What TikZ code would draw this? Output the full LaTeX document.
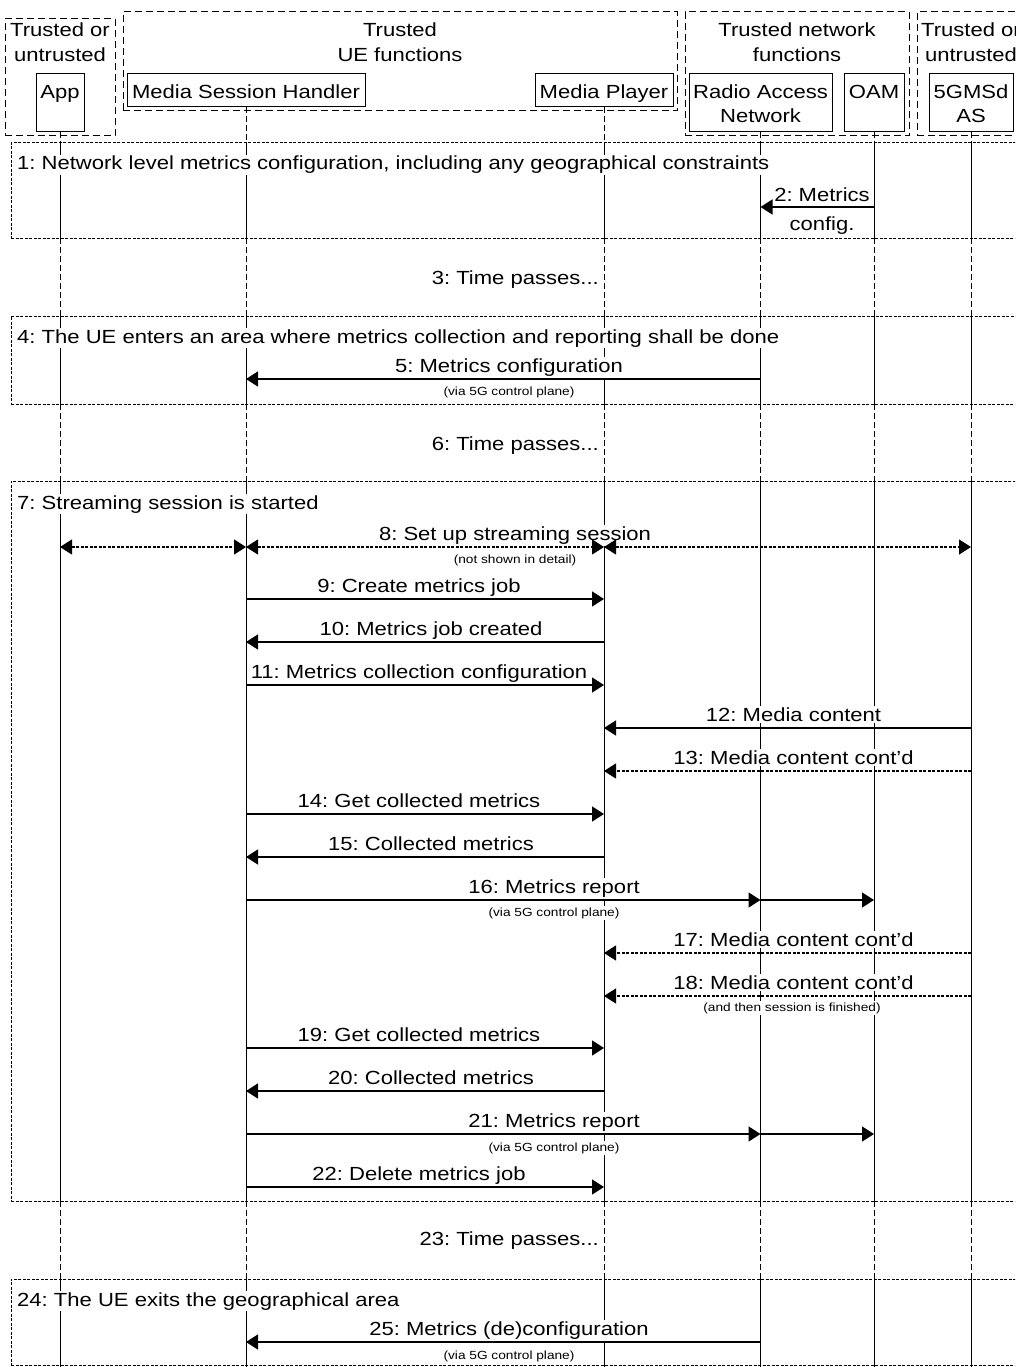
\documentclass[tikz,border=0pt]{standalone}
\usepackage{fontspec}
\setmainfont{Liberation Sans}
\usepackage{graphicx}
\usetikzlibrary{arrows.meta}
\newcommand{\sx}[1]{\scalebox{1.16}[1]{#1}}
\frenchspacing
\begin{document}
\begin{tikzpicture}[x=1pt,y=-1pt,
  every node/.style={font=\fontsize{19}{23}\selectfont},
  pbox/.style={draw, line width=1pt, inner sep=0pt, outer sep=0pt},
  gbox/.style={draw, line width=1pt, dash pattern=on 7pt off 4pt, inner sep=0pt, outer sep=0pt, anchor=north west},
  frm/.style={draw, line width=1pt, dash pattern=on 3pt off 1.5pt, inner sep=0pt, outer sep=0pt, anchor=north west},
  ttxt/.style={anchor=base, inner sep=0pt},
  lab/.style={anchor=base, fill=white, inner xsep=1pt, inner ysep=1.5pt},
  small/.style={anchor=base, fill=white, inner xsep=1pt, inner ysep=1.5pt, font=\fontsize{11.8}{14}\selectfont},
  life/.style={line width=1pt},
  lifegap/.style={line width=1pt, dash pattern=on 6pt off 3pt},
  msg/.style={line width=1.5pt, -{Triangle[length=12pt,width=15pt]}},
  dmsg/.style={line width=1.2pt, dash pattern=on 3pt off 1.5pt, -{Triangle[length=12pt,width=15pt]}},
  dbl/.style={line width=1.2pt, dash pattern=on 3pt off 1.5pt, {Triangle[length=12pt,width=15pt]}-{Triangle[length=12pt,width=15pt]}},
]
\useasboundingbox (0,0) rectangle (1015,1367);
\clip (0,0) rectangle (1015,1367);

% group boxes
\node[gbox, minimum width=110pt, minimum height=117pt] (grpA) at (5,19) {};
\node[gbox, minimum width=554pt, minimum height=99pt] (grpUE) at (123,12) {};
\node[gbox, minimum width=224pt, minimum height=124pt] (grpNet) at (685,12) {};
\node[gbox, minimum width=130pt, minimum height=124pt] (grpR) at (917,12) {};
\node[ttxt] (grpAt1) at (60,37) {\sx{Trusted or}};
\node[ttxt] (grpAt2) at (60,62) {\sx{untrusted}};
\node[ttxt] (grpUEt1) at (400,37) {\sx{Trusted}};
\node[ttxt] (grpUEt2) at (400,62) {\sx{UE functions}};
\node[ttxt] (grpNett1) at (797,37) {\sx{Trusted network}};
\node[ttxt] (grpNett2) at (797,62) {\sx{functions}};
\node[ttxt] (grpRt1) at (971,37) {\sx{Trusted or}};
\node[ttxt] (grpRt2) at (971,62) {\sx{untrusted}};

% participants
\node[pbox, minimum width=48pt, minimum height=58pt] (app) at (60,103) {};
\node[pbox, minimum width=238pt, minimum height=33pt] (msh) at (246,90.5) {};
\node[pbox, minimum width=138pt, minimum height=33pt] (mp) at (604,90.5) {};
\node[pbox, minimum width=143pt, minimum height=58pt] (ran) at (760.5,103) {};
\node[pbox, minimum width=60pt, minimum height=58pt] (oam) at (874,103) {};
\node[pbox, minimum width=84pt, minimum height=58pt] (asd) at (971,103) {};
\node[ttxt] (appT) at (60,99) {\sx{App}};
\node[ttxt] (mshT) at (246,99) {\sx{Media Session Handler}};
\node[ttxt] (mpT) at (604,99) {\sx{Media Player}};
\node[ttxt] (ranT1) at (760.5,99) {\sx{Radio Access}};
\node[ttxt] (ranT2) at (760.5,123) {\sx{Network}};
\node[ttxt] (oamT) at (874,99) {\sx{OAM}};
\node[ttxt] (asdT1) at (971,99) {\sx{5GMSd}};
\node[ttxt] (asdT2) at (971,123) {\sx{AS}};

% frames
\node[frm, minimum width=1040pt, minimum height=95pt] (fr1) at (11,143) {};
\node[frm, minimum width=1040pt, minimum height=88pt] (fr4) at (11,316) {};
\node[frm, minimum width=1040pt, minimum height=720pt] (fr7) at (11,481) {};
\node[frm, minimum width=1040pt, minimum height=86pt] (fr24) at (11,1279) {};

% y levels
\coordinate (t1) at (0,143); \coordinate (b1) at (0,238);
\coordinate (t4) at (0,316); \coordinate (b4) at (0,404);
\coordinate (t7) at (0,481); \coordinate (b7) at (0,1201);
\coordinate (t24) at (0,1279); \coordinate (b24) at (0,1365);
\coordinate (bot) at (0,1370);
\foreach \n/\y in {2/207,5/379,8/547,9/599,10/642,11/685,12/728,13/771,14/814,15/857,16/900,17/953,18/996,19/1048,20/1091,21/1134,22/1187,25/1342}
  \coordinate (r\n) at (0,\y);

% lifelines
\foreach \p in {app,msh,mp,ran,oam,asd} {
  \draw[lifegap] (\p.south) -- (\p |- t1);
  \draw[life] (\p |- t1) -- (\p |- b1);
  \draw[lifegap] (\p |- b1) -- (\p |- t4);
  \draw[life] (\p |- t4) -- (\p |- b4);
  \draw[lifegap] (\p |- b4) -- (\p |- t7);
  \draw[life] (\p |- t7) -- (\p |- b7);
  \draw[lifegap] (\p |- b7) -- (\p |- t24);
  \draw[life] (\p |- t24) -- (\p |- b24);
  \draw[lifegap] (\p |- b24) -- (\p |- bot);
}

% frame titles and interludes
\node[lab, anchor=base west] (fr1T) at (16,170) {\sx{1: Network level metrics configuration, including any geographical constraints}};
\node[lab, anchor=base west] (fr4T) at (16,343) {\sx{4: The UE enters an area where metrics collection and reporting shall be done}};
\node[lab, anchor=base west] (fr7T) at (16,509) {\sx{7: Streaming session is started}};
\node[lab, anchor=base west] (fr24T) at (16,1306) {\sx{24: The UE exits the geographical area}};
\node[lab, anchor=base east] (tp3) at (600,284) {\sx{3: Time passes...}};
\node[lab, anchor=base east] (tp6) at (600,450) {\sx{6: Time passes...}};
\node[lab, anchor=base east] (tp23) at (600,1245) {\sx{23: Time passes...}};

% message labels
\node[ttxt] (l2a) at (822,201) {\sx{2: Metrics}};
\node[ttxt] (l2b) at (822,230) {\sx{config.}};
\node[lab] (l5) at (509,372.5) {\sx{5: Metrics configuration}};
\node[small] (s5) at (509,395) {\sx{(via 5G control plane)}};
\node[lab] (l8) at (515,540.5) {\sx{8: Set up streaming session}};
\node[small] (s8) at (515,563) {\sx{(not shown in detail)}};
\node[lab] (l9) at (419,592.5) {\sx{9: Create metrics job}};
\node[lab] (l10) at (431,635.5) {\sx{10: Metrics job created}};
\node[lab] (l11) at (419,678.5) {\sx{11: Metrics collection configuration}};
\node[lab] (l12) at (793.5,721.5) {\sx{12: Media content}};
\node[lab] (l13) at (793.5,764.5) {\sx{13: Media content cont'd}};
\node[lab] (l14) at (419,807.5) {\sx{14: Get collected metrics}};
\node[lab] (l15) at (431,850.5) {\sx{15: Collected metrics}};
\node[lab] (l16) at (554,893.5) {\sx{16: Metrics report}};
\node[small] (s16) at (554,916) {\sx{(via 5G control plane)}};
\node[lab] (l17) at (793.5,946.5) {\sx{17: Media content cont'd}};
\node[lab] (l18) at (793.5,989.5) {\sx{18: Media content cont'd}};
\node[small] (s18) at (792,1011) {\sx{(and then session is finished)}};
\node[lab] (l19) at (419,1041.5) {\sx{19: Get collected metrics}};
\node[lab] (l20) at (431,1084.5) {\sx{20: Collected metrics}};
\node[lab] (l21) at (554,1127.5) {\sx{21: Metrics report}};
\node[small] (s21) at (554,1151) {\sx{(via 5G control plane)}};
\node[lab] (l22) at (419,1180.5) {\sx{22: Delete metrics job}};
\node[lab] (l25) at (509,1335.5) {\sx{25: Metrics (de)configuration}};
\node[small] (s25) at (509,1359) {\sx{(via 5G control plane)}};

% messages
\draw[msg] (oam |- r2) -- (ran |- r2);
\draw[msg] (ran |- r5) -- (msh |- r5);
\draw[dbl] (app |- r8) -- (msh |- r8);
\draw[dbl] (msh |- r8) -- (mp |- r8);
\draw[dbl] (mp |- r8) -- (asd |- r8);
\draw[msg] (msh |- r9) -- (mp |- r9);
\draw[msg] (mp |- r10) -- (msh |- r10);
\draw[msg] (msh |- r11) -- (mp |- r11);
\draw[msg] (asd |- r12) -- (mp |- r12);
\draw[dmsg] (asd |- r13) -- (mp |- r13);
\draw[msg] (msh |- r14) -- (mp |- r14);
\draw[msg] (mp |- r15) -- (msh |- r15);
\draw[msg] (msh |- r16) -- (ran |- r16);
\draw[msg] (ran |- r16) -- (oam |- r16);
\draw[dmsg] (asd |- r17) -- (mp |- r17);
\draw[dmsg] (asd |- r18) -- (mp |- r18);
\draw[msg] (msh |- r19) -- (mp |- r19);
\draw[msg] (mp |- r20) -- (msh |- r20);
\draw[msg] (msh |- r21) -- (ran |- r21);
\draw[msg] (ran |- r21) -- (oam |- r21);
\draw[msg] (msh |- r22) -- (mp |- r22);
\draw[msg] (ran |- r25) -- (msh |- r25);
\end{tikzpicture}
\end{document}
